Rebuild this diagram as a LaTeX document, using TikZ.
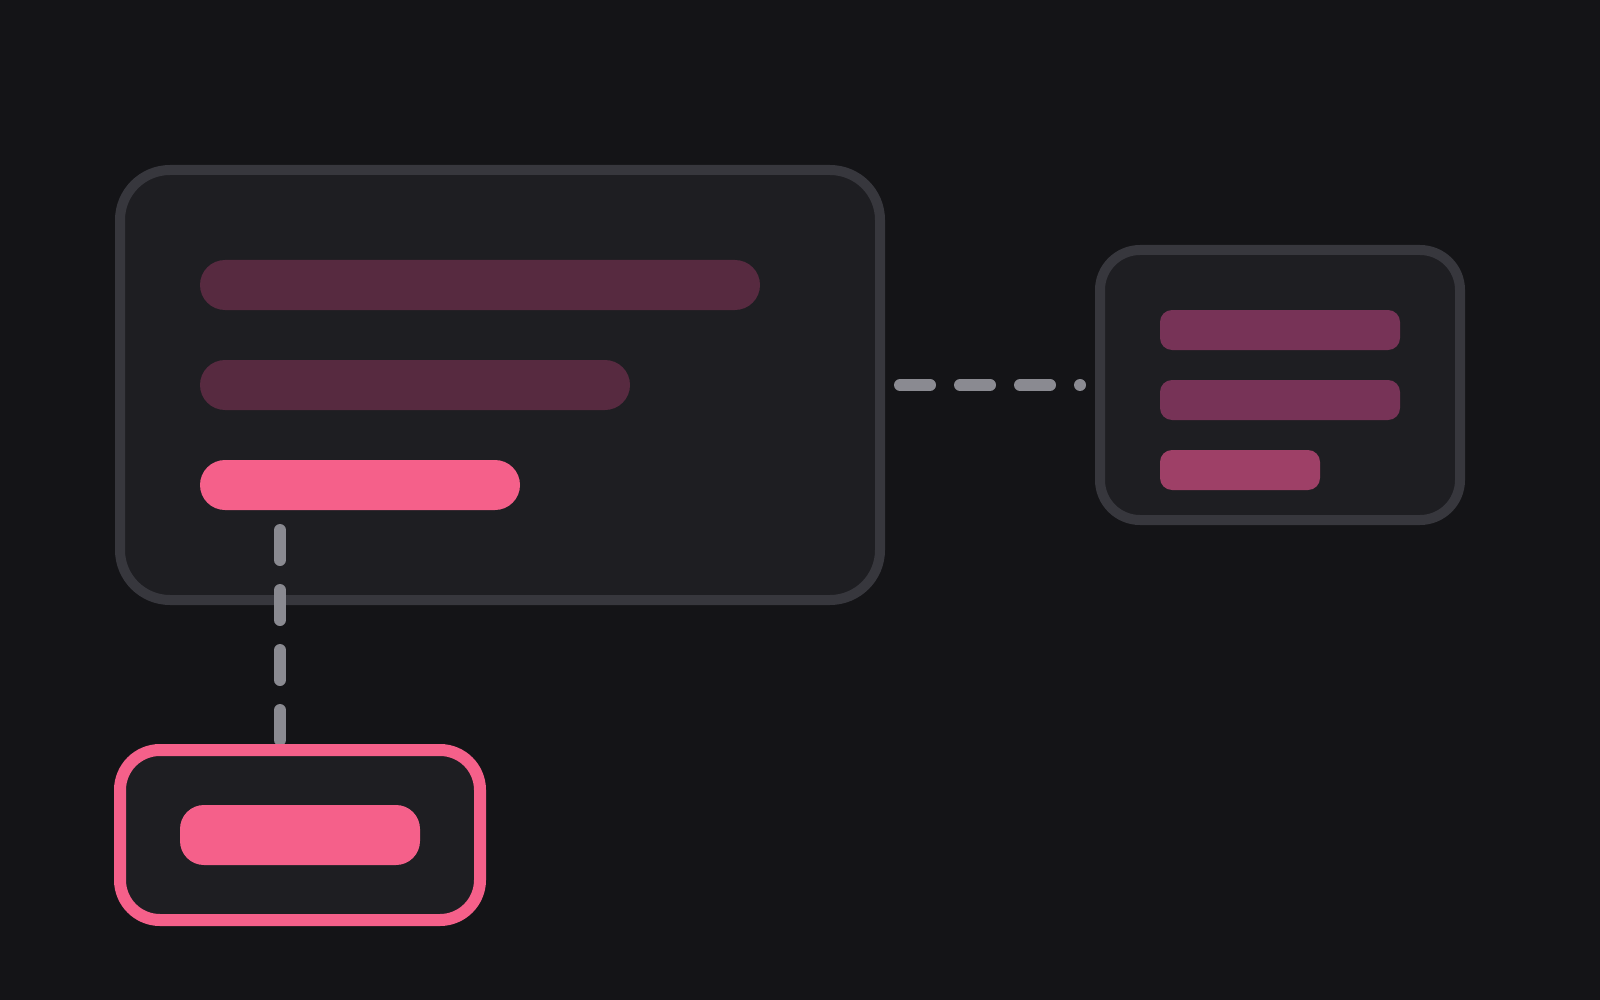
\documentclass[tikz,border=0pt]{standalone}
\definecolor{bgc}{HTML}{141417}
\definecolor{boxfill}{HTML}{1E1E22}
\definecolor{boxline}{HTML}{37373D}
\definecolor{linkgray}{HTML}{8A8A91}
\definecolor{pinkc}{HTML}{F5608A}
\definecolor{maroon}{HTML}{572A40}
\definecolor{plum}{HTML}{773357}
\definecolor{rose}{HTML}{9E4067}
\tikzset{
  panel/.style={draw=boxline, fill=boxfill, line width=5pt, inner sep=0pt, outer sep=0pt},
  bar/.style={inner sep=0pt, outer sep=0pt, draw=none},
  link/.style={draw=linkgray, line width=6pt, line cap=round, dash pattern=on 15pt off 15pt},
}
\begin{document}
\begin{tikzpicture}[x=0.5pt, y=-0.5pt]
\fill[bgc] (0,0) rectangle (1600,1000);
\useasboundingbox (0,0) rectangle (1600,1000);
% main panel
\node[panel, rounded corners=25pt, minimum width=380pt, minimum height=215pt] (main) at (500,385) {};
\node[bar, fill=maroon, rounded corners=12.5pt, minimum width=280pt, minimum height=25pt] (bar1) at (480,285) {};
\node[bar, fill=maroon, rounded corners=12.5pt, minimum width=215pt, minimum height=25pt] (bar2) at (415,385) {};
\node[bar, fill=pinkc, rounded corners=12.5pt, minimum width=160pt, minimum height=25pt] (bar3) at (360,485) {};
% side panel
\node[panel, rounded corners=20pt, minimum width=180pt, minimum height=135pt] (side) at (1280,385) {};
\node[bar, fill=plum, rounded corners=6pt, minimum width=120pt, minimum height=20pt] (sbar1) at (1280,330) {};
\node[bar, fill=plum, rounded corners=6pt, minimum width=120pt, minimum height=20pt] (sbar2) at (1280,400) {};
\node[bar, fill=rose, rounded corners=6pt, minimum width=80pt, minimum height=20pt] (sbar3) at (1240,470) {};
% connectors
\coordinate (hstart) at (900,385);
\coordinate (hend) at (1080,385);
\coordinate (vstart) at (280,530);
\coordinate (vend) at (280,750);
\draw[link] (hstart) -- (hend);
\draw[link] (vstart) -- (vend);
% leaf panel
\node[panel, draw=pinkc, line width=6pt, rounded corners=20pt, minimum width=180pt, minimum height=85pt] (leaf) at (300,835) {};
\node[bar, fill=pinkc, rounded corners=12pt, minimum width=120pt, minimum height=30pt] (leafbar) at (300,835) {};
\end{tikzpicture}
\end{document}
